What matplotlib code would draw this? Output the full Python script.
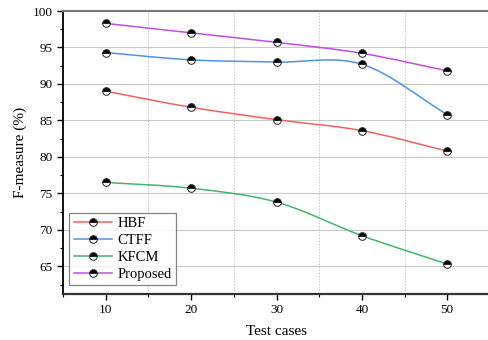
import matplotlib
matplotlib.use("Agg")
import matplotlib.pyplot as plt
import numpy as np
from matplotlib.path import Path
from matplotlib.patches import PathPatch
from matplotlib.lines import Line2D
from matplotlib.ticker import MultipleLocator

plt.rcParams['font.family'] = ['Liberation Serif', 'DejaVu Serif']

test_cases = [10, 20, 30, 40, 50]
hbf = [89.0, 86.8, 85.1, 83.6, 80.8]
ctff = [94.3, 93.3, 93.0, 92.7, 85.8]
kfcm = [76.5, 75.7, 73.8, 69.2, 65.3]
proposed = [98.3, 97.0, 95.7, 94.2, 91.8]
series_names = ["HBF", "CTFF", "KFCM", "Proposed"]
colors = ["#f26161", "#4f93e6", "#3fb56e", "#c14ee0"]

def smooth_path(x, y):
    x = np.asarray(x, float); y = np.asarray(y, float)
    n = len(x)
    pts = np.column_stack([x, y])
    tang = np.zeros_like(pts)
    for i in range(n):
        if i == 0:
            tang[i] = pts[1] - pts[0]
        elif i == n - 1:
            tang[i] = pts[-1] - pts[-2]
        else:
            tang[i] = (pts[i + 1] - pts[i - 1]) / 2.0
    verts = [tuple(pts[0])]
    codes = [Path.MOVETO]
    for i in range(n - 1):
        c1 = pts[i] + tang[i] / 3.0
        c2 = pts[i + 1] - tang[i + 1] / 3.0
        verts += [tuple(c1), tuple(c2), tuple(pts[i + 1])]
        codes += [Path.CURVE4] * 3
    return Path(verts, codes)

fig = plt.figure(figsize=(4.88, 3.4), dpi=100)
ax = fig.add_axes([63 / 488, 1 - 294 / 340, (490 - 63) / 488, (294 - 11) / 340])

ax.set_xlim(5, 55)
ax.set_ylim(61.2, 100)

all_series = [hbf, ctff, kfcm, proposed]
handles = []
mkw = dict(marker='o', markersize=5.5, fillstyle='top', markerfacecolor='black',
           markerfacecoloralt='white', markeredgecolor='#222222', markeredgewidth=0.7)
for name, vals, c in zip(series_names, all_series, colors):
    patch = PathPatch(smooth_path(test_cases, vals), facecolor='none', edgecolor=c, lw=1.1, zorder=3)
    ax.add_patch(patch)
    ax.plot(test_cases, vals, linestyle='none', zorder=4, **mkw)
    handles.append(Line2D([], [], color=c, lw=1.1, **mkw))

ax.set_xticks([10, 20, 30, 40, 50])
ax.xaxis.set_minor_locator(MultipleLocator(5))
ax.set_yticks([65, 70, 75, 80, 85, 90, 95, 100])
ax.yaxis.set_minor_locator(MultipleLocator(2.5))

ax.grid(axis='y', which='major', color='#c8c8c8', lw=0.8, zorder=0)
ax.grid(axis='x', which='minor', color='#c8c8c8', lw=0.7, linestyle=(0, (1.5, 1.5)), zorder=0)
ax.set_axisbelow(True)

ax.tick_params(axis='both', which='major', direction='out', length=4, width=1, labelsize=9.5,
               colors='black')
ax.tick_params(axis='both', which='minor', direction='out', length=2.5, width=0.8)
ax.tick_params(top=False, right=False, which='both')

ax.spines['left'].set_linewidth(1.3)
ax.spines['left'].set_color('black')
ax.spines['bottom'].set_linewidth(1.6)
ax.spines['bottom'].set_color('#333333')
ax.spines['top'].set_linewidth(1.5)
ax.spines['top'].set_color('#777777')
ax.spines['right'].set_visible(False)

ax.set_xlabel("Test cases", fontsize=11, labelpad=6)
ax.set_ylabel("F-measure (%)", fontsize=11, labelpad=4)

leg = ax.legend(handles, series_names, loc='lower left', bbox_to_anchor=(0.008, 0.02),
                fontsize=10.5, frameon=True, fancybox=False, edgecolor='#666666',
                handlelength=2.6, handletextpad=0.4, borderpad=0.3, labelspacing=0.25,
                borderaxespad=0.2)
leg.get_frame().set_linewidth(0.9)
leg.set_zorder(5)

fig.savefig("out.png", dpi=100)
